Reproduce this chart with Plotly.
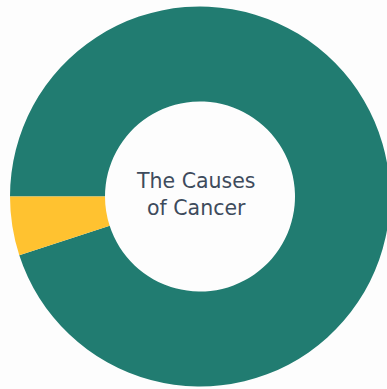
import plotly.graph_objects as go

# Share of cancer causes shown in the ring
labels = ["Other causes", "Inherited"]
values = [95, 5]
colors = ["#217C71", "#FFC230"]

W, H = 390, 389

fig = go.Figure(
    go.Pie(
        labels=labels,
        values=values,
        hole=0.5,
        sort=False,
        direction="clockwise",
        rotation=270,
        marker=dict(colors=colors, line=dict(width=0)),
        textinfo="none",
        hoverinfo="label+percent",
        domain=dict(x=[10 / W, 1], y=[2.5 / H, 382.5 / H]),
    )
)

fig.add_annotation(
    text="The Causes<br>of Cancer",
    x=195.5 / W, y=1 - 195 / H, xref="paper", yref="paper",
    showarrow=False,
    font=dict(family="DejaVu Sans", size=20.5, color="#3E4B5C"),
    align="center",
)

fig.update_layout(
    width=W, height=H,
    margin=dict(l=0, r=0, t=0, b=0),
    paper_bgcolor="#FDFDFD",
    showlegend=False,
)

fig.write_html("out.html", post_script="document.body.style.overflow='hidden';")
